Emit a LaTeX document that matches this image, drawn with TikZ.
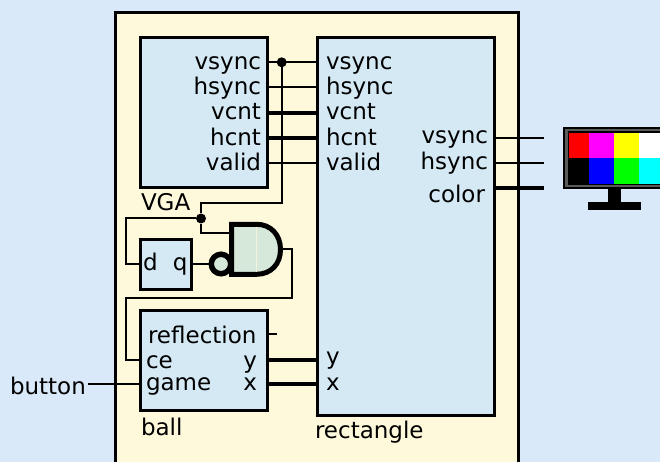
\documentclass[tikz,border=0pt]{standalone}
\usepackage{fontspec}
\setmainfont{DejaVu Sans}
\definecolor{bgblue}{RGB}{218,233,249}
\definecolor{paneyellow}{RGB}{255,249,220}
\definecolor{boxblue}{RGB}{212,233,244}
\definecolor{gategreen}{RGB}{214,232,218}
\definecolor{monred}{RGB}{255,0,0}
\definecolor{monmag}{RGB}{255,0,255}
\definecolor{monyel}{RGB}{255,255,0}
\definecolor{monwhite}{RGB}{255,255,255}
\definecolor{monblack}{RGB}{0,0,0}
\definecolor{monblue}{RGB}{0,0,255}
\definecolor{mongreen}{RGB}{0,255,0}
\definecolor{moncyan}{RGB}{0,255,255}
\definecolor{mongray}{RGB}{90,90,90}
\tikzset{
  lbl/.style={inner sep=0pt,outer sep=0pt,font=\fontsize{23.09}{28}\selectfont,text=black},
  lbe/.style={lbl,anchor=base east},
  lbw/.style={lbl,anchor=base west},
  modbox/.style={draw=black,fill=boxblue,line width=3bp,inner sep=0pt,outer sep=0pt,anchor=north west},
  wire/.style={draw=black,line width=2bp},
  bus/.style={draw=black,line width=4bp},
  dotj/.style={circle,fill=black,inner sep=0pt,minimum size=10bp},
  bubble/.style={circle,draw=black,fill=gategreen,line width=5.5bp,inner sep=0pt,minimum size=19.5bp}
}
\begin{document}
\begin{tikzpicture}[x=1bp,y=-1bp]
\useasboundingbox (0,0) rectangle (660,462);
\clip (0,0) rectangle (660,462);
\fill[bgblue] (0,0) rectangle (660,462);
\draw[fill=paneyellow,line width=3bp] (115,12.5) rectangle (518.5,480);

% modules
\node[modbox,minimum width=127bp,minimum height=150bp] (vga) at (140.5,38) {};
\node[modbox,minimum width=177bp,minimum height=377bp] (rect) at (317,38) {};
\node[modbox,minimum width=51bp,minimum height=50bp,line width=2.5bp] (dff) at (140.5,239.5) {};
\node[modbox,minimum width=127bp,minimum height=100bp] (ball) at (140.5,310) {};

% port coordinates
\foreach \n/\y in {vsync/62.3,hsync/87.3,vcnt/112.7,hcnt/138,valid/163.3}{
  \coordinate (vga-\n) at (267,\y);
  \coordinate (rect-\n) at (317,\y);
}
\coordinate (out-vsync) at (494,138);
\coordinate (out-hsync) at (494,163);
\coordinate (out-color) at (494,188);
\coordinate (mon-vsync) at (544,138);
\coordinate (mon-hsync) at (544,163);
\coordinate (mon-color) at (544,188);
\coordinate (dff-d) at (140.5,264);
\coordinate (dff-q) at (191.5,264);
\coordinate (ball-ce) at (140.5,359.5);
\coordinate (ball-game) at (140.5,384);
\coordinate (ball-y) at (267,359.5);
\coordinate (ball-x) at (267,384);
\coordinate (ball-refl) at (267,334);
\coordinate (refl-end) at (277,334);
\coordinate (rect-y) at (317,359.5);
\coordinate (rect-x) at (317,384);
\coordinate (gate-in1) at (230,233.5);
\coordinate (gate-out) at (282,249);

% connectors
\node[dotj] (j1) at (281.7,62.3) {};
\node[dotj] (j2) at (201,218.5) {};
\draw[wire] (vga-vsync) -- (rect-vsync);
\draw[wire] (vga-hsync) -- (rect-hsync);
\draw[bus] (vga-vcnt) -- (rect-vcnt);
\draw[bus] (vga-hcnt) -- (rect-hcnt);
\draw[wire] (vga-valid) -- (rect-valid);
\draw[wire] (j1) -- (281.7,203.5) -| (j2);
\draw[wire] (j2) |- (gate-in1);
\draw[wire] (j2) -| (125.7,264) -- (dff-d);
\draw[wire] (gate-out) -- (291.7,249) |- (125.7,298) |- (ball-ce);
\draw[wire] (out-vsync) -- (mon-vsync);
\draw[wire] (out-hsync) -- (mon-hsync);
\draw[bus] (out-color) -- (mon-color);
\draw[bus] (ball-y) -- (rect-y);
\draw[bus] (ball-x) -- (rect-x);
\draw[wire] (ball-refl) -- (refl-end);

% gate
\draw[fill=gategreen,line width=5bp,miter limit=10]
  (231.5,224.3) -- (256.5,224.3) .. controls (271,224.3) and (280.5,235) .. (280.5,249.5)
  .. controls (280.5,264) and (271,274.3) .. (256.5,274.3) -- (231.5,274.3) -- cycle;
\draw[paneyellow!70!gategreen,line width=.6bp] (256.5,227) -- (256.5,272);
\draw[wire] (dff-q) -- (221,264);
\node[bubble] (bub) at (221,264) {};

% labels
\node[lbe] (l1) at (261,70) {vsync};
\node[lbe] (l2) at (261,95) {hsync};
\node[lbe] (l3) at (261,120) {vcnt};
\node[lbe] (l4) at (261,146) {hcnt};
\node[lbe] (l5) at (261,171) {valid};
\node[lbw] (r1) at (326,70) {vsync};
\node[lbw] (r2) at (326,95) {hsync};
\node[lbw] (r3) at (326,120) {vcnt};
\node[lbw] (r4) at (326,146) {hcnt};
\node[lbw] (r5) at (326,171) {valid};
\node[lbe] (o1) at (488,144) {vsync};
\node[lbe] (o2) at (488,170) {hsync};
\node[lbe] (o3) at (485,203) {color};
\node[lbw] (nvga) at (141,211) {VGA};
\node[lbw] (nd) at (143,271) {d};
\node[lbe] (nq) at (187.5,271) {q};
\node[lbw] (b1) at (148,343.5) {reflection};
\node[lbw] (b2) at (146,368) {ce};
\node[lbw] (b3) at (146,390.5) {game};
\node[lbe] (b4) at (257,368) {y};
\node[lbe] (b5) at (257,390.5) {x};
\node[lbw] (nball) at (141,435) {ball};
\node[lbw] (ry) at (326,364) {y};
\node[lbw] (rx) at (326,390.5) {x};
\node[lbw] (nrect) at (315,438) {rectangle};
\node[lbw] (btn) at (10,394) {button};
\draw[wire] (btn.east |- ball-game) ++(2,0) -- (ball-game);

% monitor
\fill[monblack] (562.7,126.7) rectangle (670,189.5);
\fill[mongray] (564.7,128.7) rectangle (670,187.5);
\fill[monblack] (567.7,131.5) rectangle (670,185);
\fill[monred] (569,132.7) rectangle (589.3,157.7);
\fill[monmag] (589.3,132.7) rectangle (614,157.7);
\fill[monyel] (614,132.7) rectangle (639,157.7);
\fill[monwhite] (639,132.7) rectangle (670,157.7);
\fill[monblack] (569,157.7) rectangle (589.3,184);
\fill[monblue] (589.3,157.7) rectangle (614,184);
\fill[mongreen] (614,157.7) rectangle (639,184);
\fill[moncyan] (639,157.7) rectangle (670,184);
\fill[monblack] (607.7,189) rectangle (620.7,203);
\fill[monblack] (587.7,202.3) rectangle (641,210);
\end{tikzpicture}
\end{document}
